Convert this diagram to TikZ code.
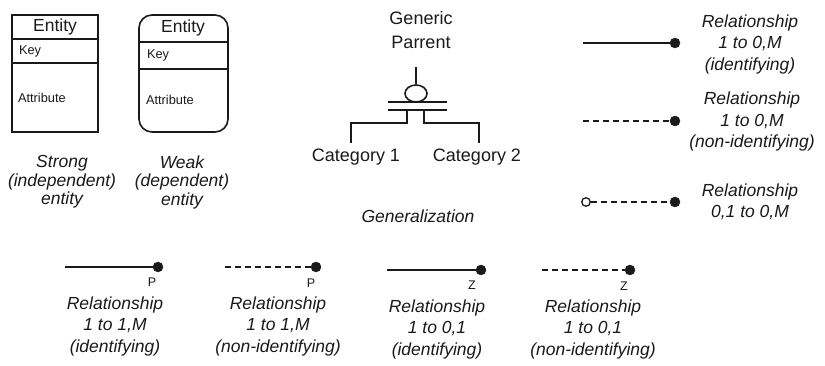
\documentclass[tikz,border=0pt]{standalone}
\usepackage{fontspec}
\setmainfont{Liberation Sans}
\usetikzlibrary{shapes.geometric}
\definecolor{ink}{HTML}{1A1A1A}
\begin{document}
\begin{tikzpicture}[x=1pt,y=-1pt,
  every node/.style={text=ink},
  lw/.style={line width=1.6pt, draw=ink},
  dashedline/.style={lw, dash pattern=on 6pt off 4pt},
  fdot/.style={circle, fill=ink, draw=ink, inner sep=0pt, minimum size=10pt},
  odot/.style={circle, fill=white, draw=ink, line width=1.3pt, inner sep=0pt, minimum size=8.5pt},
  title/.style={font=\fontsize{17.5}{20}\selectfont},
  small/.style={font=\fontsize{12.8}{14}\selectfont, anchor=west},
  caption/.style={font=\fontsize{17.5}{18.5}\selectfont\itshape, align=center},
  rellabel/.style={font=\fontsize{17.5}{21.5}\selectfont\itshape, align=center},
  tag/.style={font=\fontsize{12.5}{13}\selectfont},
  gentext/.style={font=\fontsize{18}{24}\selectfont, align=center}
]
\useasboundingbox[fill=white] (0,0) rectangle (825,366);

% ---- strong entity ----
\node[lw, draw, minimum width=86pt, minimum height=117pt, inner sep=0pt] (strong) at (55,73.5) {};
\draw[lw] (strong.west |- 0,39) -- (strong.east |- 0,39);
\draw[lw] (strong.west |- 0,63) -- (strong.east |- 0,63);
\node[title] (sname) at (55,27) {Entity};
\node[small] (skey) at (15.5,51) {Key};
\node[small] (sattr) at (14.5,98) {Attribute};
\node[caption] (scap) at (62,182) {Strong\\(independent)\\entity};

% ---- weak entity ----
\node[lw, draw, rounded corners=13pt, minimum width=89pt, minimum height=117pt, inner sep=0pt] (weak) at (183.5,73.5) {};
\draw[lw] (weak.west |- 0,42) -- (weak.east |- 0,42);
\draw[lw] (weak.west |- 0,69) -- (weak.east |- 0,69);
\node[title] (wname) at (183,28) {Entity};
\node[small] (wkey) at (143.5,55) {Key};
\node[small] (wattr) at (142.5,100) {Attribute};
\node[caption] (wcap) at (182,182) {Weak\\(dependent)\\entity};

% ---- generalization ----
\node[gentext] (parent) at (421,30) {Generic\\Parrent};
\node[ellipse, lw, draw, minimum width=22pt, minimum height=17pt, inner sep=0pt] (disc) at (416,93.5) {};
\coordinate (ptop) at (416,67);
\draw[lw] (ptop) -- (disc.north);
\coordinate (b1l) at (388,102);
\coordinate (b1r) at (447,102);
\coordinate (b2l) at (388,110);
\coordinate (b2r) at (447,110);
\draw[lw] (b1l) -- (b1r);
\draw[lw] (b2l) -- (b2r);
\node[gentext] (cat1) at (356,157) {Category 1};
\node[gentext] (cat2) at (477,157) {Category 2};
\coordinate (s1) at (407,110);
\coordinate (s2) at (424,110);
\draw[lw] (s1) -- (407,123) -| (351,143);
\draw[lw] (s2) -- (424,123) -| (479,143);
\node[font=\fontsize{17.5}{20}\selectfont\itshape] (gencap) at (418,216) {Generalization};

% ---- relationships, right column ----
\coordinate (ra) at (583,43);
\node[fdot] (rae) at (675,43) {};
\draw[lw] (ra) -- (rae);
\node[rellabel] (ral) at (750,44) {Relationship\\1 to 0,M\\(identifying)};

\coordinate (rb) at (583,121);
\node[fdot] (rbe) at (675,121) {};
\draw[dashedline] (rb) -- (rbe);
\node[rellabel] (rbl) at (752,121.5) {Relationship\\1 to 0,M\\(non-identifying)};

\node[odot] (rc) at (586,202) {};
\node[fdot] (rce) at (675,202) {};
\draw[dashedline] (rc) -- (rce);
\node[rellabel] (rcl) at (750,202) {Relationship\\0,1 to 0,M};

% ---- relationships, bottom row ----
\coordinate (rd) at (65,267);
\node[fdot] (rde) at (158,267) {};
\draw[lw] (rd) -- (rde);
\node[tag] (rdt) at (152,282) {P};
\node[rellabel] (rdl) at (115,326) {Relationship\\1 to 1,M\\(identifying)};

\coordinate (re) at (225,267);
\node[fdot] (ree) at (316,267) {};
\draw[dashedline] (re) -- (ree);
\node[tag] (ret) at (311,283) {P};
\node[rellabel] (rel) at (278,326) {Relationship\\1 to 1,M\\(non-identifying)};

\coordinate (rf) at (387,270);
\node[fdot] (rfe) at (481,270) {};
\draw[lw] (rf) -- (rfe);
\node[tag] (rft) at (472,285) {Z};
\node[rellabel] (rfl) at (437,329) {Relationship\\1 to 0,1\\(identifying)};

\coordinate (rg) at (542,270);
\node[fdot] (rge) at (630,270) {};
\draw[dashedline] (rg) -- (rge);
\node[tag] (rgt) at (624,286) {Z};
\node[rellabel] (rgl) at (593,329) {Relationship\\1 to 0,1\\(non-identifying)};
\end{tikzpicture}
\end{document}
